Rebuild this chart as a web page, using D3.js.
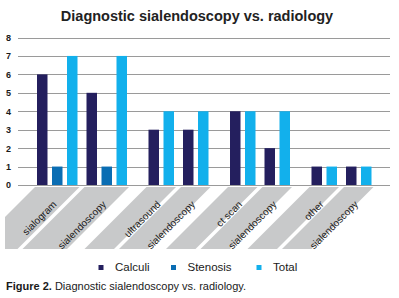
<!DOCTYPE html>
<html>
<head>
<meta charset="utf-8">
<script src="https://cdn.jsdelivr.net/npm/d3@7"></script>
<style>
  body { margin: 0; background: #fff; }
  svg { display: block; font-family: "Liberation Sans", Arial, sans-serif; }
</style>
</head>
<body>
<svg id="chart" width="399" height="298"></svg>
<script>
// categories come in pairs: a radiology method, then sialendoscopy
const categories = ["sialogram", "sialendoscopy", "ultrasound", "sialendoscopy",
                    "ct scan", "sialendoscopy", "other", "sialendoscopy"];
const calculi = [6, 5, 3, 3, 4, 2, 1, 1];
const stenosis = [1, 1, 0, 0, 0, 0, 0, 0];
const total = [7, 7, 4, 4, 4, 4, 1, 1];
const seriesNames = ["Calculi", "Stenosis", "Total"];
const yTicks = [0, 1, 2, 3, 4, 5, 6, 7, 8];

const colors = ["#241f5e", "#0a6db3", "#12b0ec"];
const series = [calculi, stenosis, total];

const svg = d3.select("#chart");

// bars are packed: empty series leave no slot
const barW = 10.5, barGap = 4.5, groupGap = 9, pairGap = 21.5;
let cursor = 0;
const groups = categories.map(function(c, i) {
    if (i > 0) cursor += (i % 2 === 0) ? pairGap : groupGap;
    let start = cursor;
    let bars = [];
    series.forEach(function(s, k) {
        if (s[i] > 0) {
            if (bars.length) cursor += barGap;
            bars.push({ k: k, value: s[i], u: cursor });
            cursor += barW;
        }
    });
    return { name: c, start: start, end: cursor, bars: bars };
});

const x = d3.scaleLinear().domain([0, cursor]).range([37, 37 + cursor]);
const y = d3.scaleLinear().domain([0, 8]).range([185, 37.5]);

// title
svg.append("text")
    .attr("x", 197).attr("y", 21)
    .attr("text-anchor", "middle")
    .attr("font-size", 14.5).attr("font-weight", "bold")
    .attr("fill", "#222")
    .text("Diagnostic sialendoscopy vs. radiology");

// grid + y axis
const yAxis = d3.axisLeft(y).tickValues(yTicks).tickSize(-372).tickPadding(7);
const gy = svg.append("g").attr("transform", "translate(18,0)").call(yAxis);
gy.select(".domain").remove();
gy.selectAll(".tick line").attr("stroke", "#9a9a9a").attr("shape-rendering", "crispEdges");
gy.selectAll(".tick text").attr("font-size", 9).attr("font-weight", "bold")
    .attr("fill", "#1a1a1a").attr("font-family", "Liberation Sans, Arial, sans-serif");

// bars
groups.forEach(function(g) {
    svg.append("g").selectAll("rect").data(g.bars).join("rect")
        .attr("x", d => x(d.u))
        .attr("width", x(barW) - x(0))
        .attr("y", d => y(d.value))
        .attr("height", d => y(0) - y(d.value))
        .attr("fill", d => colors[d.k]);
});

// slanted gray label bands
svg.append("clipPath").attr("id", "clip")
    .append("rect").attr("x", 5).attr("y", 180).attr("width", 394).attr("height", 80);

const bandTop = 187, bandBot = 249, slant = bandBot - bandTop;
const labels = svg.append("g").attr("clip-path", "url(#clip)");
groups.forEach(function(g) {
    let x0 = x(g.start) - 2, x1 = x(g.end) + 2;
    labels.append("path")
        .attr("d", `M${x0},${bandTop}L${x1},${bandTop}L${x1 - slant},${bandBot}L${x0 - slant},${bandBot}Z`)
        .attr("fill", "#c8c9ca");
    let cx = (x(g.start) + x(g.end)) / 2;
    labels.append("text")
        .attr("transform", `translate(${cx},205) rotate(-45)`)
        .attr("text-anchor", "end")
        .attr("font-size", 10)
        .attr("fill", "#1a1a1a")
        .text(g.name);
});

// legend
const legendX = [98.5, 171, 256.5];
const legend = svg.append("g").selectAll("g").data(seriesNames).join("g")
    .attr("transform", (d, i) => `translate(${legendX[i]},265)`);
legend.append("rect").attr("width", 5).attr("height", 5).attr("fill", (d, i) => colors[i]);
legend.append("text").attr("x", 16.5).attr("y", 5.5)
    .attr("font-size", 11.5).attr("fill", "#1a1a1a").text(d => d);

// caption
const cap = svg.append("text").attr("x", 6).attr("y", 290)
    .attr("font-size", 11).attr("fill", "#1a1a1a");
cap.append("tspan").attr("font-weight", "bold").text("Figure 2.");
cap.append("tspan").text(" Diagnostic sialendoscopy vs. radiology.");
</script>
</body>
</html>
